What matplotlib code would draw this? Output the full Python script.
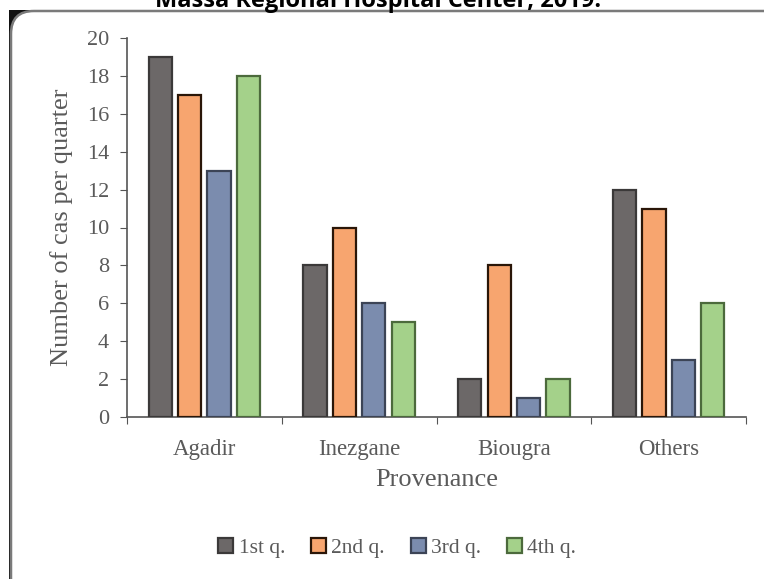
import matplotlib
matplotlib.use("Agg")
import matplotlib.pyplot as plt
import numpy as np
from matplotlib.patches import FancyBboxPatch, Rectangle

categories = ["Agadir", "Inezgane", "Biougra", "Others"]
series_names = ["1st q.", "2nd q.", "3rd q.", "4th q."]
q1 = [19, 8, 2, 12]
q2 = [17, 10, 8, 11]
q3 = [13, 6, 1, 3]
q4 = [18, 5, 2, 6]
y_ticks = [0, 2, 4, 6, 8, 10, 12, 14, 16, 18, 20]

fills = ["#6c6868", "#f7a56f", "#7b8cae", "#a4d18a"]
edges = ["#3b3939", "#2a1608", "#3c4456", "#4c6a3c"]

W, H = 764, 579
fig = plt.figure(figsize=(W / 100, H / 100), dpi=100)
fig.patch.set_facecolor("white")

# framed panel: dark backing with a white rounded card on top
fig.patches.append(Rectangle((9 / W, 0), 1, 1 - 10 / H, transform=fig.transFigure,
                             facecolor="#111111", edgecolor="none", zorder=0))
fig.patches.append(FancyBboxPatch((11 / W, -0.05), 1.2, 1 - 11 / H + 0.05,
                                  boxstyle="round,pad=0,rounding_size=0.03",
                                  transform=fig.transFigure, facecolor="white",
                                  edgecolor="#7a7a7a", linewidth=1.8, zorder=1,
                                  mutation_aspect=W / H))

fig.text(0.495, 1.0 - 1 / H, "Massa Regional Hospital Center, 2019.",
         ha="center", va="center", fontsize=17, fontweight="bold",
         family="Open Sans", color="black")

ax = fig.add_axes([127 / W, 1 - 417 / H, (746 - 127) / W, (417 - 38) / H])
ax.set_facecolor("none")
ax.set_zorder(2)

x = np.arange(len(categories))
width = 0.15
step = 0.19
for k, vals in enumerate([q1, q2, q3, q4]):
    ax.bar(x + (k - 1.5) * step, vals, width, color=fills[k], edgecolor=edges[k],
           linewidth=1.6, label=series_names[k], zorder=3)

ax.set_xlim(-0.5, len(categories) - 0.5)
ax.set_ylim(0, 20)
ax.set_yticks(y_ticks)

serif = "Liberation Serif"
txt = "#5a5a5a"
ax.set_xticks(np.arange(len(categories) + 1) - 0.5)
ax.set_xticklabels([])
ax.set_xticks(x, minor=True)
ax.set_xticklabels(categories, minor=True, fontsize=16.5, family=serif, color=txt)
ax.tick_params(axis="x", which="minor", length=0, pad=16)
ax.tick_params(axis="x", which="major", length=5, direction="out", color="#555555")
ax.tick_params(axis="y", length=5, direction="out", color="#555555", pad=8,
               labelsize=16, labelcolor=txt)
for lab in ax.get_yticklabels():
    lab.set_family(serif)

for s in ["top", "right"]:
    ax.spines[s].set_visible(False)
for s in ["left", "bottom"]:
    ax.spines[s].set_color("#555555")
    ax.spines[s].set_linewidth(1.2)

ax.set_xlabel("Provenance", fontsize=19, family=serif, color=txt, labelpad=6)
ax.set_ylabel("Number of cas per quarter", fontsize=19, family=serif, color=txt,
              labelpad=10)

leg = fig.legend(loc="center", bbox_to_anchor=(0.52, 1 - 548 / H), ncol=4,
                 frameon=False, prop={"family": serif, "size": 15.5},
                 handlelength=0.7, handleheight=0.7, handletextpad=0.25,
                 columnspacing=1.2)
for t in leg.get_texts():
    t.set_color(txt)

fig.savefig("out.png", dpi=100)
